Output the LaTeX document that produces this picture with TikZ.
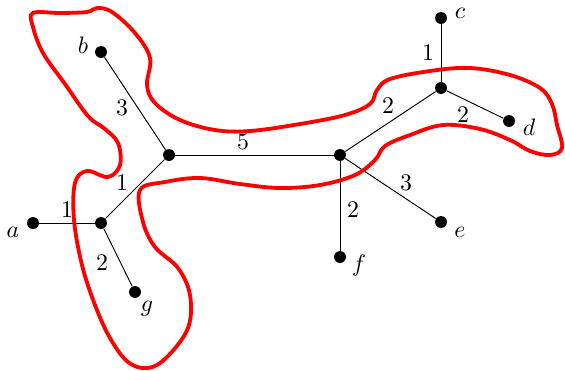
\documentclass[tikz,border=0pt]{standalone}
\begin{document}
\begin{tikzpicture}[x=0.42pt,y=-0.42pt,
  dot/.style={circle,fill=black,inner sep=0pt,minimum size=5pt},
  edge/.style={draw=black,line width=0.4pt},
  vlab/.style={anchor=base,inner sep=0pt},
  wlab/.style={anchor=base,inner sep=0pt},
  blob/.style={draw=red,line width=1.6pt}]
\useasboundingbox (0,0) rectangle (565,370);
% vertices
\node[dot] (a) at (33,223) {};
\node[dot] (v1) at (101,223) {};
\node[dot] (g) at (135,292) {};
\node[dot] (b) at (101,52) {};
\node[dot] (v2) at (169,155) {};
\node[dot] (v3) at (340,155) {};
\node[dot] (f) at (340,257) {};
\node[dot] (e) at (441,222) {};
\node[dot] (v4) at (441,88) {};
\node[dot] (c) at (441,18) {};
\node[dot] (d) at (509,121) {};
% edges
\draw[edge] (a) -- (v1);
\draw[edge] (v1) -- (g);
\draw[edge] (v1) -- (v2);
\draw[edge] (b) -- (v2);
\draw[edge] (v2) -- (v3);
\draw[edge] (v3) -- (f);
\draw[edge] (v3) -- (e);
\draw[edge] (v3) -- (v4);
\draw[edge] (v4) -- (c);
\draw[edge] (v4) -- (d);
% vertex labels
\node[vlab] (la) at (13,237) {$a$};
\node[vlab] (lb) at (83,53) {$b$};
\node[vlab] (lc) at (460,18) {$c$};
\node[vlab] (ld) at (529,135) {$d$};
\node[vlab] (le) at (460,237) {$e$};
\node[vlab] (lf) at (359,271) {$f$};
\node[vlab] (lg) at (147,311) {$g$};
% weights
\node[wlab] (w1) at (67,217) {1};
\node[wlab] (w2) at (122,190) {1};
\node[wlab] (w3) at (102,270) {2};
\node[wlab] (w4) at (122,115) {3};
\node[wlab] (w5) at (243,149) {5};
\node[wlab] (w6) at (388,113) {2};
\node[wlab] (w7) at (428,60) {1};
\node[wlab] (w8) at (463,122) {2};
\node[wlab] (w9) at (406,190) {3};
\node[wlab] (w10) at (353,217) {2};
% red curve
\draw[blob] plot[smooth cycle,tension=0.6] coordinates {
(33,13) (60,13) (87,12) (97,8) (112,12) (135,33) (150,58) (147,85) (155,103)
(180,120) (215,130) (250,131) (300,124) (345,115) (370,104) (377,90) (390,79)
(430,71) (470,68) (510,75) (540,88) (552,104) (557,125) (562,148) (550,155)
(530,151) (510,140) (480,129) (443,125) (410,135) (385,146) (375,160) (355,175)
(320,185) (280,188) (240,184) (200,178) (165,182) (140,190) (143,222) (155,247)
(178,268) (190,295) (188,328) (167,357) (148,368) (128,362) (110,338) (95,305)
(82,265) (74,220) (75,183) (87,171) (108,177) (120,165) (118,143) (105,129)
(88,116) (65,84) (43,53) (33,27)};
\end{tikzpicture}
\end{document}
